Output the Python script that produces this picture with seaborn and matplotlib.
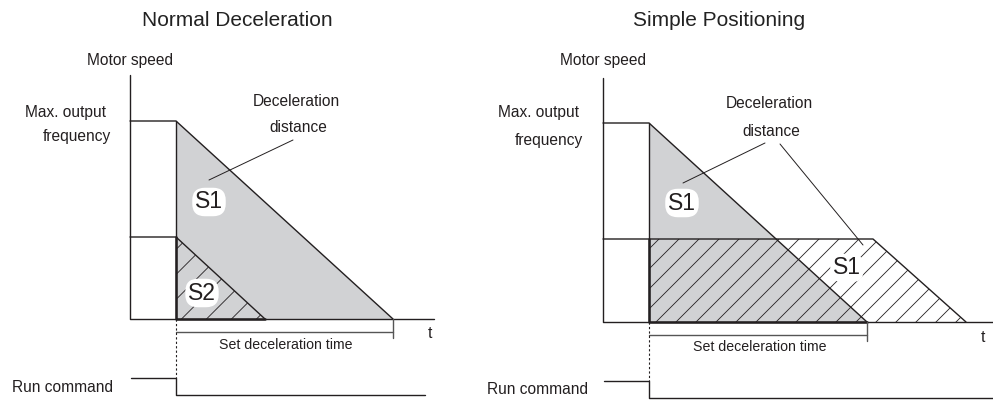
import numpy as np
import pandas as pd
import matplotlib.pyplot as plt
from matplotlib.patches import Polygon
import seaborn as sns

sns.set_style('white')
plt.rcParams['font.family'] = ['Liberation Sans', 'DejaVu Sans']

# diagram coordinates (pixel grid of the drawing, y grows downwards)
# left panel: normal deceleration
L_axis_x = 130
L_t0, L_t_end, L_s2_end = 176, 393, 265
L_base, L_max, L_low, L_top = 319, 121, 237, 75
L_axis_end = 434
L_run_hi, L_run_lo, L_run_end = 378, 395, 425

# right panel: simple positioning
R_axis_x = 603
R_t0, R_t_end, R_hold_end, R_stop = 649, 867, 873, 966
R_base, R_max, R_low, R_top = 322, 123, 239, 78
R_axis_end = 993
R_run_hi, R_run_lo, R_run_end = 381, 398, 993

titles = ['Normal Deceleration', 'Simple Positioning']
title_x = [237, 719]

ink = '#231f20'
gray = '#d1d2d4'

fig = plt.figure(figsize=(9.93, 4.0), dpi=100)
ax = fig.add_axes([0, 0, 1, 1])
ax.set_xlim(0, 993)
ax.set_ylim(400, 0)
ax.set_axis_off()


def line(xs, ys, lw=1.0, color=ink, ls='-'):
    d = pd.DataFrame({'x': xs, 'y': ys, 'o': range(len(xs))})
    sns.lineplot(data=d, x='x', y='y', sort=False, estimator=None, color=color,
                 lw=lw, ls=ls, ax=ax, legend=False)


def hatch(poly, step):
    patch = Polygon(poly, closed=True, fc='none', ec='none')
    ax.add_patch(patch)
    xs = [p[0] for p in poly]
    ys = [p[1] for p in poly]
    lo = min(xs) + min(ys)
    hi = max(xs) + max(ys)
    for c in np.arange(lo + step / 2, hi, step):
        ln, = ax.plot([c - 400, c + 400], [400, -400], color=ink, lw=0.6)
        ln.set_clip_path(patch)


def label(x, y, s):
    ax.text(x, y, s, fontsize=16.5, ha='center', va='center', color=ink,
            bbox=dict(boxstyle='round,pad=0.12,rounding_size=0.55', fc='white', ec='none'))


txt = dict(fontsize=11.2, color=ink, va='center')

# ---------- left panel ----------
ax.fill([L_t0, L_t_end, L_t0], [L_max, L_base, L_base], color=gray, lw=0)
hatch([(L_t0, L_low), (L_s2_end, L_base), (L_t0, L_base)], 25)
line([L_axis_x, L_axis_x, L_axis_end], [L_top, L_base, L_base])
line([L_axis_x, L_t0, L_t_end], [L_max, L_max, L_base])
line([L_t0, L_t0], [L_max, L_base])
line([L_axis_x, L_t0, L_s2_end], [L_low, L_low, L_base])
line([L_t0, L_t0, L_s2_end], [L_low, L_base, L_base], lw=1.8)
line([L_t0, L_t_end], [332, 332], color='#555555')
line([L_t_end, L_t_end], [L_base, 338], color='#555555')
line([L_t0, L_t0], [L_base, L_run_hi], lw=0.8, ls=(0, (2, 2)))
line([131, L_t0, L_t0, L_run_end], [L_run_hi, L_run_hi, L_run_lo, L_run_lo])
line([293, 209], [140, 180], lw=0.7)

ax.text(130, 60, 'Motor speed', ha='center', **txt)
ax.text(106, 112, 'Max. output', ha='right', **txt)
ax.text(111, 137, 'frequency', ha='right', **txt)
ax.text(296, 102, 'Deceleration', ha='center', **txt)
ax.text(298, 128, 'distance', ha='center', **txt)
ax.text(286, 345, 'Set deceleration time', ha='center', fontsize=10.2, color=ink, va='center')
ax.text(12, 388, 'Run command', ha='left', **txt)
ax.text(430, 333, 't', ha='center', **txt)
label(209, 202, 'S1')
label(202, 293, 'S2')

# ---------- right panel ----------
ax.fill([R_t0, R_t_end, R_t0], [R_max, R_base, R_base], color=gray, lw=0)
hatch([(R_t0, R_low), (R_hold_end, R_low), (R_stop, R_base), (R_t0, R_base)], 20)
line([R_axis_x, R_axis_x, R_axis_end], [R_top, R_base, R_base])
line([R_axis_x, R_t0, R_t_end], [R_max, R_max, R_base])
line([R_t0, R_t0], [R_max, R_base])
line([R_axis_x, R_t0, R_hold_end, R_stop], [R_low, R_low, R_low, R_base])
line([R_t0, R_t0, R_t_end], [R_low, R_base, R_base], lw=1.8)
line([R_t0, R_t_end], [335, 335], color='#555555')
line([R_t_end, R_t_end], [R_base, 341], color='#555555')
line([R_t0, R_t0], [R_base, R_run_hi], lw=0.8, ls=(0, (2, 2)))
line([604, R_t0, R_t0, R_run_end], [R_run_hi, R_run_hi, R_run_lo, R_run_lo])
line([765, 683], [143, 183], lw=0.7)
line([780, 863], [144, 245], lw=0.7)

ax.text(603, 60, 'Motor speed', ha='center', **txt)
ax.text(579, 113, 'Max. output', ha='right', **txt)
ax.text(583, 140, 'frequency', ha='right', **txt)
ax.text(769, 104, 'Deceleration', ha='center', **txt)
ax.text(771, 131, 'distance', ha='center', **txt)
ax.text(760, 347, 'Set deceleration time', ha='center', fontsize=10.2, color=ink, va='center')
ax.text(588, 390, 'Run command', ha='right', **txt)
ax.text(983, 337, 't', ha='center', **txt)
label(682, 203, 'S1')
label(847, 268, 'S1')

for t, x in zip(titles, title_x):
    ax.text(x, 20, t, fontsize=15, ha='center', va='center', color='#222222')

fig.savefig('out.png', dpi=100)
